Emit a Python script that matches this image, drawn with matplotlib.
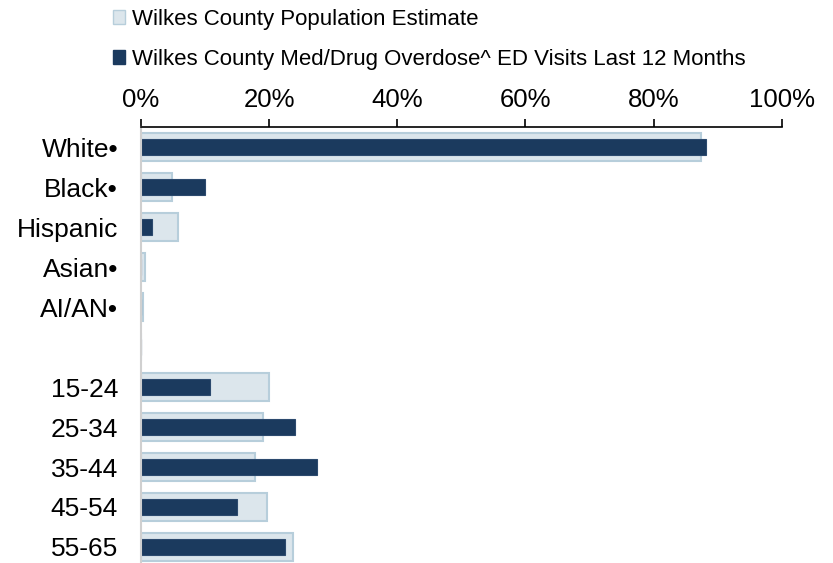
import matplotlib.pyplot as plt
from matplotlib.patches import Patch

plt.rcParams['font.family'] = ['Liberation Sans', 'DejaVu Sans']

categorias = ['White•', 'Black•', 'Hispanic', 'Asian•', 'AI/AN•', '',
              '15-24', '25-34', '35-44', '45-54', '55-65']
poblacion = [87.4, 4.8, 5.7, 0.6, 0.3, 0, 19.9, 19.1, 17.8, 19.7, 23.7]
sobredosis = [88.2, 10.0, 1.7, 0, 0, 0, 10.8, 24.1, 27.4, 15.0, 22.4]
ticks_x = [0, 20, 40, 60, 80, 100]
etiqueta_pob = 'Wilkes County Population Estimate'
etiqueta_od = 'Wilkes County Med/Drug Overdose^ ED Visits Last 12 Months'

color_pob = '#dce6ec'
borde_pob = '#b7cedb'
color_od = '#1b3a5e'

fig = plt.figure(figsize=(8.33, 5.63), dpi=100)
ax = fig.add_axes([0.1693, -0.0071, 0.7691, 0.7815])

pos = list(range(len(categorias)))
ax.barh(pos, poblacion, height=0.7, color=color_pob, edgecolor=borde_pob, linewidth=1.5)
ax.barh(pos, sobredosis, height=0.38, color=color_od, edgecolor='#2c4a6e', linewidth=0.8)

ax.set_xlim(0, 100)
ax.set_ylim(len(categorias) - 0.5, -0.5)
ax.set_yticks(pos)
ax.set_yticklabels(categorias, fontsize=19)
ax.tick_params(axis='y', length=0, pad=16.5)
ax.set_xticks(ticks_x)
ax.set_xticklabels([f'{t}%' for t in ticks_x], fontsize=18.5)
ax.xaxis.tick_top()
ax.tick_params(axis='x', direction='out', length=6, width=1.2, pad=5)

for lado in ['right', 'bottom']:
    ax.spines[lado].set_visible(False)
ax.spines['top'].set_linewidth(1.2)
ax.spines['left'].set_color('#d0d0d0')
ax.spines['left'].set_linewidth(1.5)

manejadores = [Patch(facecolor=color_pob, edgecolor=borde_pob, label=etiqueta_pob),
               Patch(facecolor=color_od, edgecolor=color_od, label=etiqueta_od)]
fig.legend(handles=manejadores, loc='upper left', bbox_to_anchor=(113 / 833, 1 - 9 / 563),
           frameon=False, fontsize=16, handlelength=0.55, handleheight=0.55,
           handletextpad=0.3, labelspacing=0.85, borderpad=0, borderaxespad=0)

fig.savefig('out.png', dpi=100)
